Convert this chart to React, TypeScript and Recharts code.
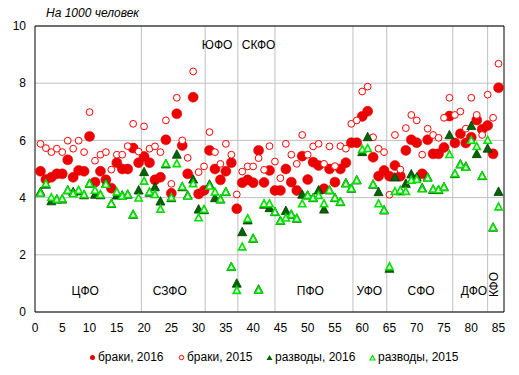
import {
	CartesianGrid,
	ReferenceDot,
	ReferenceLine,
	Scatter,
	ScatterChart,
	XAxis,
	YAxis,
} from "recharts";

// values per 1000 people, regions numbered 1..85
const marriages2016 = [
	4.92, 4.63, 4.71, 4.83, 4.83, 5.32, 4.71, 4.95, 4.92, 6.14,
	4.54, 4.92, 4.62, 4.33, 5.22, 5.0, 5.0, 5.73, 5.22, 5.44,
	5.22, 4.62, 4.71, 6.02, 4.15, 6.93, 5.82, 4.83, 7.51, 4.13,
	4.25, 5.65, 5.0, 4.62, 4.92, 5.22, 3.61, 4.52, 4.62, 4.52,
	5.65, 4.53, 4.95, 4.25, 4.25, 5.0, 4.54, 4.25, 5.45, 4.63,
	5.24, 5.12, 4.31, 5.0, 4.54, 5.0, 5.22, 5.92, 5.92, 6.84,
	7.02, 5.41, 4.75, 4.95, 4.75, 5.12, 4.75, 5.65, 6.02, 5.92,
	4.83, 6.02, 5.53, 5.53, 5.75, 6.85, 5.91, 6.23, 5.91, 6.11,
	6.71, 6.39, 6.52, 5.53, 7.84,
];
const marriages2015 = [
	5.88, 5.73, 5.59, 5.71, 5.59, 5.99, 5.71, 5.99, 5.59, 6.99,
	5.29, 5.5, 5.59, 4.98, 5.5, 5.5, 5.8, 6.58, 5.61, 6.49,
	5.71, 5.79, 5.59, 6.7, 4.48, 7.49, 6.0, 5.39, 8.41, 4.89,
	5.09, 6.29, 5.59, 5.18, 5.88, 5.5, 4.11, 4.91, 5.09, 5.09,
	5.38, 4.97, 5.8, 5.26, 4.68, 5.88, 5.5, 5.18, 6.19, 5.5,
	5.79, 5.88, 5.18, 5.79, 5.1, 5.8, 5.71, 6.58, 6.7, 7.71,
	7.88, 6.11, 5.71, 5.59, 4.1, 6.19, 4.98, 6.43, 6.89, 6.7,
	5.5, 6.41, 6.19, 6.09, 6.79, 7.49, 6.89, 7.01, 6.41, 7.49,
	6.89, 6.19, 7.6, 6.79, 8.68,
];
const divorces2016 = [
	4.19, 4.45, 3.87, 3.93, 3.93, 4.25, 4.19, 4.22, 4.08, 4.48,
	4.1, 4.08, 4.48, 3.78, 4.07, 4.07, 4.1, 3.4, 4.25, 4.89,
	4.17, 4.36, 3.86, 5.16, 3.98, 5.5, 4.36, 4.07, 4.63, 3.58,
	3.56, 4.45, 3.98, 3.93, 4.19, 1.57, 0.99, 2.79, 3.2, 2.56,
	0.78, 3.75, 3.63, 3.49, 3.18, 3.53, 3.4, 3.26, 4.1, 4.07,
	3.98, 4.25, 3.58, 4.25, 3.98, 3.84, 4.5, 4.31, 4.6, 5.59,
	6.11, 4.45, 4.19, 3.55, 1.51, 4.7, 4.22, 4.48, 4.81, 4.7,
	4.33, 4.7, 4.27, 4.26, 4.36, 6.18, 4.82, 5.16, 5.08, 6.5,
	5.52, 4.75, 5.71, 2.95, 4.2,
];
const divorces2015 = [
	4.15, 4.48, 4.0, 3.93, 3.95, 4.25, 4.13, 4.25, 4.1, 4.48,
	4.25, 4.1, 4.46, 3.78, 4.19, 4.05, 4.1, 3.4, 3.98, 4.57,
	4.19, 4.1, 3.59, 5.18, 4.0, 5.18, 4.38, 4.05, 4.48, 3.29,
	3.58, 4.4, 4.19, 3.93, 4.19, 1.57, 0.75, 2.27, 3.26, 2.56,
	0.76, 3.78, 3.78, 3.49, 3.18, 3.28, 3.4, 3.26, 3.78, 4.07,
	3.98, 4.07, 3.78, 4.25, 3.98, 3.84, 4.48, 4.31, 4.6, 5.68,
	5.71, 4.45, 3.78, 3.55, 1.58, 4.21, 4.25, 4.21, 4.6, 4.63,
	4.3, 4.68, 4.29, 4.27, 4.36, 5.5, 4.83, 5.15, 5.06, 6.0,
	5.78, 4.75, 6.0, 2.95, 3.67,
];

const districtBounds = [19.5, 31.2, 37.2, 44, 58.3, 64.5, 76.6, 83];
const districtNames = ["ЦФО", "СЗФО", "ЮФО", "СКФО", "ПФО", "УФО", "СФО", "ДФО", "КФО"];
const districtLabelX = [9.2, 24.7, 33.4, 41, 50.5, 61.3, 70.8, 80.5, 84.1];
const districtLabelY = [0.75, 0.75, 9.35, 9.35, 0.75, 0.75, 0.75, 0.75, 0.96];

const xTicks = [0, 5, 10, 15, 20, 25, 30, 35, 40, 45, 50, 55, 60, 65, 70, 75, 80, 85];
const yTicks = [0, 2, 4, 6, 8, 10];

const FONT = "'Liberation Sans', Arial, sans-serif";

const toPoints = (values: number[]) => values.map((v, i) => ({ x: i + 1, y: v }));

function FilledDot(props: any) {
	const { cx, cy } = props;
	return <circle cx={cx} cy={cy} r={5} fill="#ee0000" stroke="#d00000" strokeWidth={0.5} />;
}

function HollowDot(props: any) {
	const { cx, cy } = props;
	return <circle cx={cx} cy={cy} r={3.4} fill="#ffffff" stroke="#ff0000" strokeWidth={1} />;
}

function DarkTriangle(props: any) {
	const { cx, cy } = props;
	const p = `${cx},${cy - 5} ${cx - 4.5},${cy + 3.5} ${cx + 4.5},${cy + 3.5}`;
	return <polygon points={p} fill="#006400" stroke="#003c00" strokeWidth={0.8} />;
}

function LightTriangle(props: any) {
	const { cx, cy } = props;
	const p = `${cx},${cy - 4} ${cx - 3.6},${cy + 2.8} ${cx + 3.6},${cy + 2.8}`;
	return <polygon points={p} fill="#e6ffe6" stroke="#00e000" strokeWidth={1.6} />;
}

function LegendItem({ x, label, marker }: { x: number; label: string; marker: string }) {
	return (
		<div style={{ position: "absolute", left: x, top: 350, display: "flex", alignItems: "center", whiteSpace: "nowrap" }}>
			<svg width={7} height={7} style={{ marginRight: 2 }}>
				{marker === "filled" && <circle cx={3.5} cy={3.5} r={2.5} fill="#ee0000" />}
				{marker === "hollow" && <circle cx={3.5} cy={3.5} r={2.2} fill="#fff" stroke="#ff0000" />}
				{marker === "dark" && <polygon points="3.5,1 0.5,6 6.5,6" fill="#006400" />}
				{marker === "light" && <polygon points="3.5,1.5 1,6 6,6" fill="#e6ffe6" stroke="#00e000" strokeWidth={1.2} />}
			</svg>
			<span style={{ fontSize: 12, fontFamily: FONT, color: "#000" }}>{label}</span>
		</div>
	);
}

export default function App() {
	return (
		<div style={{ position: "absolute", left: 0, top: 0, width: 519, height: 375, background: "#fff" }}>
			<div
				style={{
					position: "absolute",
					left: 46,
					top: 6,
					fontSize: 12,
					fontStyle: "italic",
					fontFamily: FONT,
					color: "#000",
				}}
			>
				На 1000 человек
			</div>
			<ScatterChart width={519} height={375} margin={{ top: 26, right: 15, left: 0, bottom: 43 }}>
				<CartesianGrid vertical={false} stroke="#c0c0c0" />
				<XAxis
					type="number"
					dataKey="x"
					domain={[0, 86]}
					ticks={xTicks}
					allowDataOverflow
					height={20}
					tickLine={false}
					tickSize={0}
					tickMargin={11}
					axisLine={{ stroke: "#000" }}
					tick={{ fill: "#000", fontSize: 12, fontFamily: FONT }}
				/>
				<YAxis
					type="number"
					dataKey="y"
					domain={[0, 10]}
					ticks={yTicks}
					width={35}
					tickLine={false}
					tickSize={0}
					tickMargin={9}
					axisLine={{ stroke: "#000" }}
					tick={{ fill: "#000", fontSize: 12, fontFamily: FONT }}
				/>
				{districtBounds.map((b) => (
					<ReferenceLine key={b} x={b} stroke="#c0c0c0" />
				))}
				<ReferenceLine y={10} stroke="#000" />
				<ReferenceLine x={86} stroke="#000" />
				<Scatter data={toPoints(marriages2016)} shape={FilledDot} isAnimationActive={false} />
				<Scatter data={toPoints(marriages2015)} shape={HollowDot} isAnimationActive={false} />
				<Scatter data={toPoints(divorces2016)} shape={DarkTriangle} isAnimationActive={false} />
				<Scatter data={toPoints(divorces2015)} shape={LightTriangle} isAnimationActive={false} />
				{districtNames.map((name, i) => (
					<ReferenceDot
						key={name}
						x={districtLabelX[i]}
						y={districtLabelY[i]}
						r={0}
						stroke="none"
						fill="none"
						label={{
							value: name,
							position: "center",
							angle: name === "КФО" ? -90 : 0,
							fill: "#000",
							fontSize: 12,
							fontFamily: FONT,
						}}
					/>
				))}
			</ScatterChart>
			<LegendItem x={89} label="браки, 2016" marker="filled" />
			<LegendItem x={178} label="браки, 2015" marker="hollow" />
			<LegendItem x={266} label="разводы, 2016" marker="dark" />
			<LegendItem x={369} label="разводы, 2015" marker="light" />
		</div>
	);
}
